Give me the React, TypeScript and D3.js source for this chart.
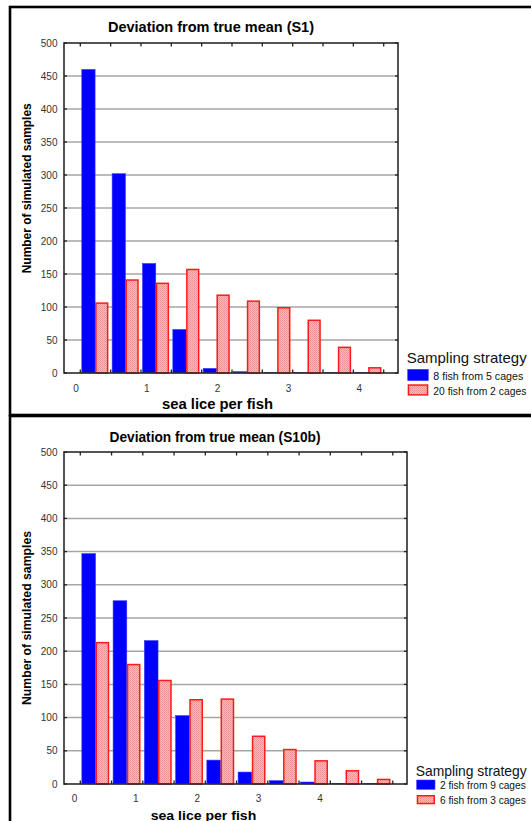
import React from "react";
import * as d3 from "d3";

// Bin index along the deviation axis (10 bins per panel)
const binIndex = [0, 1, 2, 3, 4, 5, 6, 7, 8, 9];

// S1 panel counts per bin
const s1EightFishFiveCages = [460, 302, 166, 66, 7, 2, 1, 1, 1, 1];
const s1TwentyFishTwoCages = [107, 142, 137, 158, 119, 110, 100, 81, 40, 9];

// S10b panel counts per bin
const s10bTwoFishNineCages = [347, 276, 216, 103, 36, 18, 5, 3, 1, 1];
const s10bSixFishThreeCages = [214, 181, 157, 128, 129, 73, 53, 36, 21, 8];

// Axis labels
const yTicks = [0, 50, 100, 150, 200, 250, 300, 350, 400, 450, 500];
const xTickLabels = [0, 1, 2, 3, 4];

const titles = ["Deviation from true mean (S1)", "Deviation from true mean (S10b)"];
const seriesNames = [
  ["8 fish from 5 cages", "20 fish from 2 cages"],
  ["2 fish from 9 cages", "6 fish from 3 cages"],
];
const legendTitle = "Sampling strategy";
const xTitle = "sea lice per fish";
const yTitle = "Number of simulated samples";

const FONT = "'Liberation Sans', Arial, Helvetica, sans-serif";
const BLUE = "#0000ff";
const RED = "#ff1a1a";

type Layout = {
  frame: [number, number, number, number];
  plot: { x0: number; x1: number; y0: number; y1: number };
  bins: [number, number];
  labelRange: [number, number];
  labelY: number;
  title: { x: number; y: number; size: number; len: number };
  xTitle: { x: number; y: number; size: number; len: number };
  yTitle: { x: number; y: number; size: number; len: number };
  legend: {
    x: number;
    titleY: number;
    titleSize: number;
    titleLen: number;
    sw: number;
    sh: number;
    rows: number[];
    textX: number;
    textSize: number;
    textLen: number[];
  };
};

const layouts: Layout[] = [
  {
    frame: [10, 7, 600, 408],
    plot: { x0: 64, x1: 398, y0: 43, y1: 373 },
    bins: [80.3, 383.7],
    labelRange: [76, 359.3],
    labelY: 392,
    title: { x: 211, y: 32, size: 15, len: 206 },
    xTitle: { x: 217.5, y: 409, size: 14.5, len: 111 },
    yTitle: { x: 31, y: 188.3, size: 13.5, len: 170 },
    legend: {
      x: 407.7,
      titleY: 363.3,
      titleSize: 15,
      titleLen: 120,
      sw: 20.6,
      sh: 11.3,
      rows: [369.3, 384.3],
      textX: 433.3,
      textSize: 10.5,
      textLen: [90, 93],
    },
  },
  {
    frame: [10, 416, 600, 500],
    plot: { x0: 64, x1: 407, y0: 452, y1: 784 },
    bins: [80.3, 392.8],
    labelRange: [74.5, 320],
    labelY: 802,
    title: { x: 215, y: 442, size: 14.5, len: 211 },
    xTitle: { x: 203.5, y: 819.5, size: 13.5, len: 105.6 },
    yTitle: { x: 31, y: 618, size: 13.5, len: 174 },
    legend: {
      x: 416.7,
      titleY: 776,
      titleSize: 14.5,
      titleLen: 111,
      sw: 18.3,
      sh: 9.3,
      rows: [780, 795],
      textX: 440,
      textSize: 10,
      textLen: [85.7, 85.7],
    },
  },
];

const panelData = [
  [s1EightFishFiveCages, s1TwentyFishTwoCages],
  [s10bTwoFishNineCages, s10bSixFishThreeCages],
];

function Panel({ idx }: { idx: number }) {
  const L = layouts[idx];
  const [blueVals, redVals] = panelData[idx];
  const { x0, x1, y0, y1 } = L.plot;

  const y = d3.scaleLinear().domain([0, 500]).range([y1, y0]);
  const bin = d3.scaleBand<number>().domain(binIndex).range(L.bins).padding(0);
  const sub = d3
    .scaleBand<string>()
    .domain(["a", "b"])
    .range([0, bin.bandwidth()])
    .paddingInner(0)
    .paddingOuter(0.14)
    .align(0.4);
  const xl = d3.scaleLinear().domain([0, 4]).range(L.labelRange);

  const binEdges = binIndex.map((i) => bin(i)!).concat([L.bins[1]]);
  const bw = sub.bandwidth();

  return (
    <g>
      <rect
        x={L.frame[0]}
        y={L.frame[1]}
        width={L.frame[2]}
        height={L.frame[3]}
        fill="#fff"
        stroke="#000"
        strokeWidth={2.6}
      />
      <text
        x={L.title.x}
        y={L.title.y}
        textAnchor="middle"
        fontFamily={FONT}
        fontWeight="bold"
        fontSize={L.title.size}
        textLength={L.title.len}
        lengthAdjust="spacingAndGlyphs"
        fill="#000"
      >
        {titles[idx]}
      </text>

      {/* gridlines */}
      {yTicks
        .filter((t) => t > 0 && t < 500)
        .map((t) => (
          <line key={"g" + t} x1={x0} x2={x1} y1={y(t)} y2={y(t)} stroke="#a6a6a6" strokeWidth={1.5} />
        ))}

      {/* bars */}
      {binIndex.map((i) => {
        const bx = bin(i)!;
        const hb = y1 - y(blueVals[i]);
        const hr = y1 - y(redVals[i]);
        return (
          <g key={"b" + i}>
            <rect x={bx + sub("a")!} y={y(blueVals[i])} width={bw} height={hb} fill={BLUE} stroke="#3c3cff" strokeWidth={0.6} />
            <rect
              x={bx + sub("b")! + 0.75}
              y={y(redVals[i]) + 0.75}
              width={bw - 1.5}
              height={Math.max(hr - 0.75, 0)}
              fill="url(#hatch)"
              stroke={RED}
              strokeWidth={1.5}
            />
          </g>
        );
      })}

      {/* plot frame */}
      <rect x={x0} y={y0} width={x1 - x0} height={y1 - y0} fill="none" stroke="#2a2a2a" strokeWidth={1.6} />

      {/* y ticks, inward */}
      {yTicks.map((t) => (
        <g key={"yt" + t}>
          <line x1={x0} x2={x0 + 3} y1={y(t)} y2={y(t)} stroke="#222" strokeWidth={1.3} />
          <line x1={x1} x2={x1 - 3} y1={y(t)} y2={y(t)} stroke="#222" strokeWidth={1.3} />
          <text
            x={x0 - 6.5}
            y={y(t) + 3.6}
            textAnchor="end"
            fontFamily={FONT}
            fontSize={10}
            fill="#333"
          >
            {t}
          </text>
        </g>
      ))}

      {/* bin boundary ticks on top and bottom edges */}
      {binEdges.map((e, k) => (
        <g key={"xt" + k}>
          <line x1={e} x2={e} y1={y0} y2={y0 + 3.5} stroke="#222" strokeWidth={1.3} />
          <line x1={e} x2={e} y1={y1} y2={y1 - 3.5} stroke="#222" strokeWidth={1.3} />
        </g>
      ))}

      {/* x tick labels */}
      {xTickLabels.map((v) => (
        <text key={"xl" + v} x={xl(v)} y={L.labelY} textAnchor="middle" fontFamily={FONT} fontSize={10} fill="#333">
          {v}
        </text>
      ))}

      <text
        x={L.xTitle.x}
        y={L.xTitle.y}
        textAnchor="middle"
        fontFamily={FONT}
        fontWeight="bold"
        fontSize={L.xTitle.size}
        textLength={L.xTitle.len}
        lengthAdjust="spacingAndGlyphs"
        fill="#000"
      >
        {xTitle}
      </text>
      <text
        transform={`translate(${L.yTitle.x},${L.yTitle.y}) rotate(-90)`}
        textAnchor="middle"
        fontFamily={FONT}
        fontWeight="bold"
        fontSize={L.yTitle.size}
        textLength={L.yTitle.len}
        lengthAdjust="spacingAndGlyphs"
        fill="#000"
      >
        {yTitle}
      </text>

      {/* legend */}
      <text
        x={L.legend.x - 1}
        y={L.legend.titleY}
        fontFamily={FONT}
        fontSize={L.legend.titleSize}
        textLength={L.legend.titleLen}
        lengthAdjust="spacingAndGlyphs"
        fill="#111"
      >
        {legendTitle}
      </text>
      {seriesNames[idx].map((name, k) => (
        <g key={"lg" + k}>
          {k === 0 ? (
            <rect x={L.legend.x} y={L.legend.rows[k]} width={L.legend.sw} height={L.legend.sh} fill={BLUE} stroke="#3c3cff" strokeWidth={0.6} />
          ) : (
            <rect
              x={L.legend.x + 0.75}
              y={L.legend.rows[k] + 0.75}
              width={L.legend.sw - 1.5}
              height={L.legend.sh - 1.5}
              fill="url(#hatch)"
              stroke={RED}
              strokeWidth={1.5}
            />
          )}
          <text
            x={L.legend.textX}
            y={L.legend.rows[k] + L.legend.sh - 0.8}
            fontFamily={FONT}
            fontSize={L.legend.textSize}
            textLength={L.legend.textLen[k]}
            lengthAdjust="spacingAndGlyphs"
            fill="#111"
          >
            {name}
          </text>
        </g>
      ))}
    </g>
  );
}

export default function App() {
  return (
    <svg
      width={531}
      height={821}
      viewBox="0 0 531 821"
      style={{ position: "absolute", left: 0, top: 0, background: "#fff" }}
    >
      <defs>
        {/* fine-grained pink fill for the second series */}
        <pattern id="hatch" patternUnits="userSpaceOnUse" width={2} height={2}>
          <rect width={2} height={2} fill="#f7baba" />
          <rect width={1} height={1} fill="#ee8e8e" />
          <rect x={1} y={1} width={1} height={1} fill="#f19c9c" />
        </pattern>
      </defs>
      <rect width={531} height={821} fill="#fff" />
      <Panel idx={0} />
      <Panel idx={1} />
    </svg>
  );
}
